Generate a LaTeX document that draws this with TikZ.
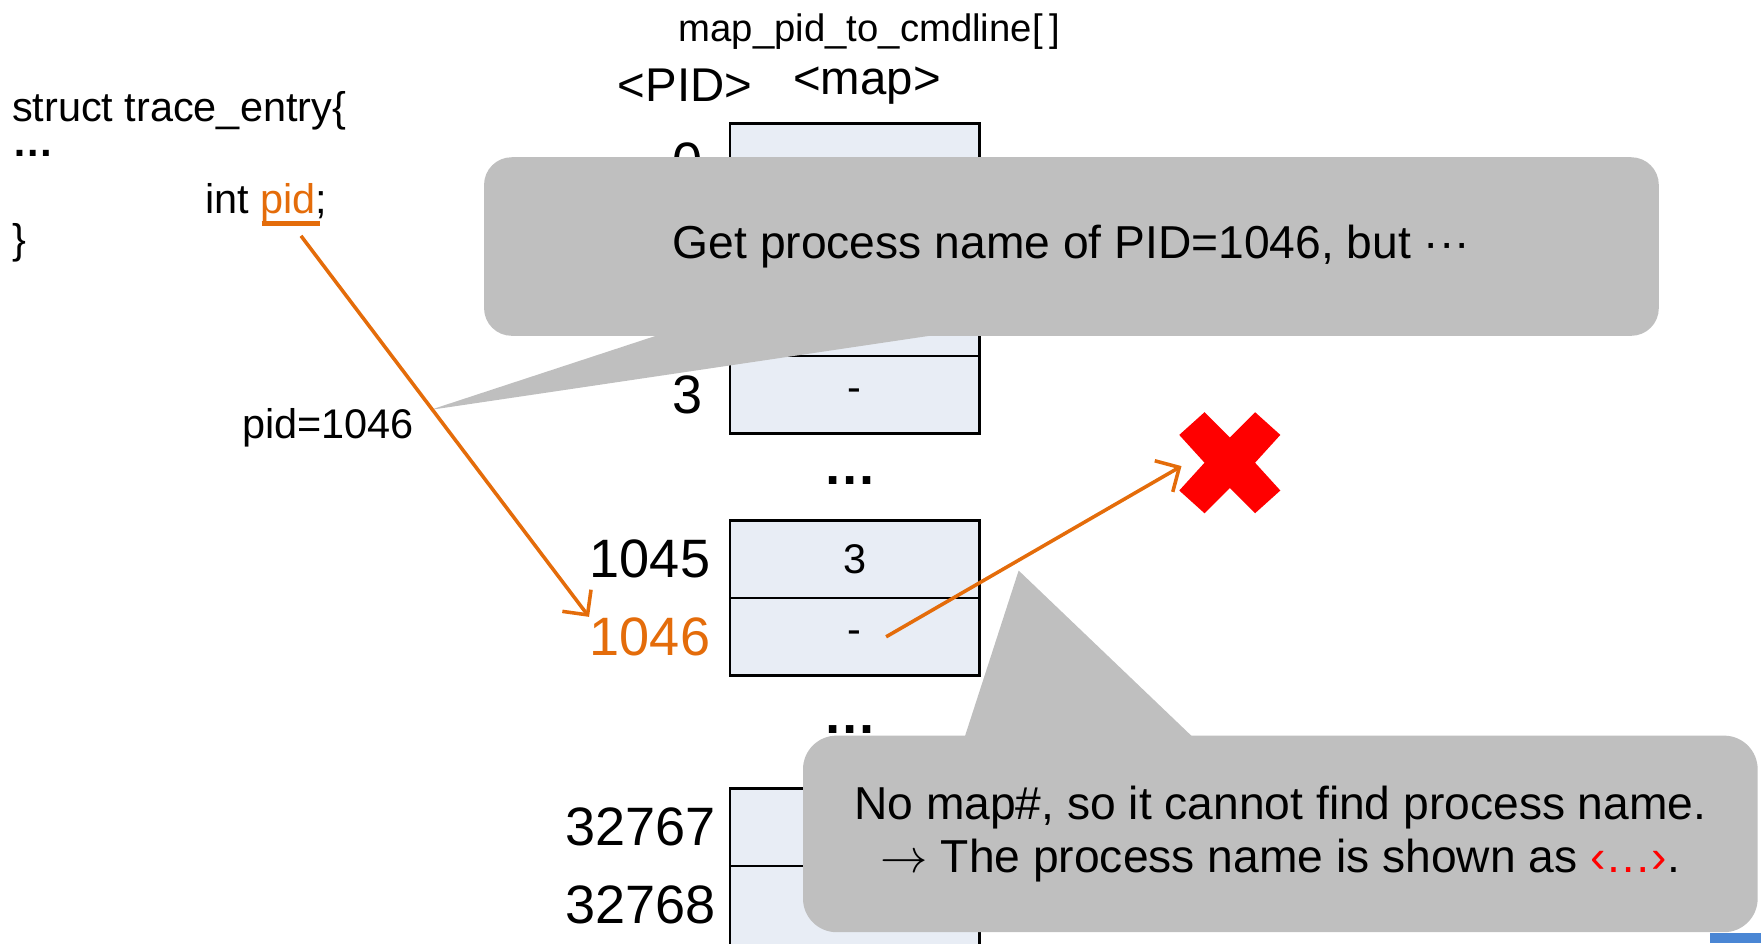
\documentclass[tikz,border=0pt]{standalone}
\usepackage{fontspec}
\setmainfont{Liberation Sans}
\usetikzlibrary{arrows.meta,positioning}
\definecolor{pidcol}{RGB}{228,108,10}
\definecolor{cellcol}{RGB}{232,237,245}
\definecolor{notecol}{RGB}{191,191,191}
\definecolor{crosscol}{RGB}{255,0,0}
\definecolor{barcol}{RGB}{74,134,212}

\begin{document}
\begin{tikzpicture}[
    >={Straight Barb[length=1.6mm,width=3.2mm]},
    cell/.style={rectangle, draw, line width=0.6pt, fill=cellcol, minimum width=2.22cm, minimum height=0.69cm, inner sep=0pt, outer sep=0pt, font=\fontsize{10.5}{12}\selectfont},
    pidlbl/.style={inner sep=0pt, font=\fontsize{13.7}{16}\selectfont},
    code/.style={inner sep=0pt, anchor=base west, font=\fontsize{10.5}{12}\selectfont},
    gapdots/.style={inner sep=0pt, font=\fontsize{13.5}{14}\bfseries},
    note/.style={rectangle, fill=notecol, align=center, inner sep=0pt, font=\fontsize{11.7}{13.4}\selectfont},
    ptr/.style={->, draw=pidcol, line width=0.9pt},
]
\useasboundingbox (0,0) rectangle (15.68,-8.40);
\clip (0,0) rectangle (15.68,-8.40);

\node[code] (structln) at (0.10,-1.08) {struct trace\_entry\{};
\node[code, text height=1.2mm, text depth=0pt, font=\fontsize{10.5}{12}\bfseries] (dotsln) at (0.10,-1.39) {…};
\node[code] (intpid) at (1.82,-1.90) {int {\color{pidcol}pid};};
\node[code] (closeln) at (0.10,-2.26) {\}};
\draw[pidcol, line width=1.2pt] (2.33,-1.99) -- (2.85,-1.99);
\coordinate (pidref) at (2.68,-2.10);
\node[code, anchor=center] (pidval) at (2.92,-3.81) {pid=1046};

\node[font=\fontsize{9.7}{12}\selectfont] (title) at (7.74,-0.28) {map\_pid\_to\_cmdline[\,]};
\node[font=\fontsize{12}{14}\selectfont] (pidhdr) at (6.10,-0.76) {<PID>};
\node[font=\fontsize{12}{14}\selectfont] (maphdr) at (7.72,-0.76) {<map>};

\node[cell] (c0) at (7.61,-1.445) {};
\node[cell, below=0pt of c0] (c1) {};
\node[cell, below=0pt of c1] (c2) {};
\node[cell, below=0pt of c2] (c3) {-};
\node[pidlbl, left=0.24cm of c0] (l0) {0};
\node[pidlbl, left=0.24cm of c3] (l3) {3};
\node[gapdots] (gap1) at (7.57,-4.28) {…};

\node[cell] (c1045) at (7.61,-4.98) {3};
\node[cell, below=0pt of c1045] (c1046) {-};
\node[pidlbl, left=0.17cm of c1045] (l1045) {1045};
\node[pidlbl, text=pidcol, left=0.17cm of c1046] (l1046) {1046};
\node[gapdots] (gap2) at (7.57,-6.50) {…};

\node[cell] (c32767) at (7.61,-7.365) {};
\node[cell, below=0pt of c32767, minimum height=0.85cm] (c32768) {};
\node[pidlbl, left=0.12cm of c32767] (l32767) {32767};
\node[pidlbl, left=0.12cm of c32768.north west, yshift=-0.345cm] (l32768) {32768};

\begin{scope}[shift={(10.95,-4.12)}]
\fill[crosscol] (-0.225,0.45) -- (0,0.225) -- (0.225,0.45) -- (0.45,0.2475) -- (0.225,0)
  -- (0.45,-0.2475) -- (0.225,-0.45) -- (0,-0.225) -- (-0.225,-0.45) -- (-0.45,-0.2475)
  -- (-0.225,0) -- (-0.45,0.2475) -- cycle;
\end{scope}
\coordinate (crossin) at (10.52,-4.15);
\fill[barcol] (15.23,-8.31) rectangle (15.68,-8.40);

\node[note, rounded corners=7pt, minimum width=10.46cm, minimum height=1.59cm] (getbox) at (9.54,-2.195) {Get process name of PID=1046, but ···};
\coordinate (gettip) at (3.83,-3.65);
\fill[notecol] ([xshift=1.73cm,yshift=2pt]getbox.south west) -- ([xshift=4.40cm,yshift=2pt]getbox.south west) -- (gettip) -- cycle;

\node[note, rounded corners=8.5pt, minimum width=8.50cm, minimum height=1.75cm] (nobox) at (11.40,-7.425) {No map\#, so it cannot find process name.\\$\rightarrow$ The process name is shown as {\color{crosscol}‹…›}.};
\coordinate (notip) at (9.07,-5.08);
\fill[notecol] ([xshift=1.43cm,yshift=-2pt]nobox.north west) -- ([xshift=3.53cm,yshift=-2pt]nobox.north west) -- (notip) -- cycle;

\draw[ptr] (pidref) -- (l1046.north west);
\draw[ptr] ([xshift=0.28cm]c1046.center) -- (crossin);

\end{tikzpicture}
\end{document}
